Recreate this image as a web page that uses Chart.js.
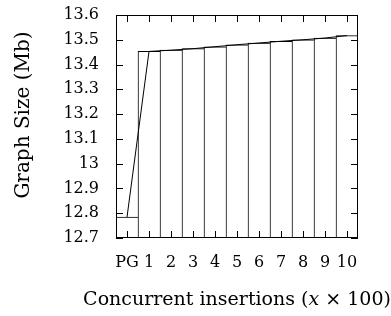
<!DOCTYPE html>
<html>
<head>
<meta charset="utf-8">
<script src="https://cdn.jsdelivr.net/npm/chart.js@4/dist/chart.umd.min.js"></script>
<style>
  body { margin: 0; background: #fff; }
  canvas { display: block; }
</style>
</head>
<body>
<canvas id="graphChart" width="391" height="316"></canvas>
<script>
// data
const categories = ['PG', '1', '2', '3', '4', '5', '6', '7', '8', '9', '10'];
const graphSize = [12.784, 13.453, 13.458, 13.464, 13.472, 13.480, 13.487, 13.494, 13.500, 13.507, 13.517];
const yTicks = [12.7, 12.8, 12.9, 13.0, 13.1, 13.2, 13.3, 13.4, 13.5, 13.6];

const yMin = yTicks[0];
const yMax = yTicks[yTicks.length - 1];
const font = 'DejaVu Serif';

// frame, inward ticks on all four sides, axis titles (gnuplot look)
const frameTicks = {
  id: 'frameTicks',
  afterDraw(chart) {
    const { ctx, chartArea: a, scales } = chart;
    const x = scales.x, y = scales.y;
    const len = 7;
    const L = Math.round(a.left), R = Math.round(a.right);
    const T = Math.round(a.top), B = Math.round(a.bottom);
    ctx.save();
    ctx.fillStyle = '#000';
    ctx.fillRect(L, T, R - L, 1);
    ctx.fillRect(L, B - 1, R - L, 1);
    ctx.fillRect(L, T, 1, B - T);
    ctx.fillRect(R - 1, T, 1, B - T);
    yTicks.forEach(v => {
      const py = Math.round(y.getPixelForValue(v));
      ctx.fillRect(L, py, len, 1);
      ctx.fillRect(R - len, py, len, 1);
    });
    categories.forEach((_, i) => {
      const px = Math.round(x.getPixelForValue(i));
      ctx.fillRect(px, B - len, 1, len);
      ctx.fillRect(px, T, 1, len);
    });

    // y title
    ctx.textBaseline = 'middle';
    ctx.textAlign = 'center';
    ctx.font = '20px "' + font + '"';
    ctx.save();
    ctx.translate(24, 115);
    ctx.rotate(-Math.PI / 2);
    ctx.fillText('Graph Size (Mb)', 0, 0);
    ctx.restore();

    // x title, with an italic x
    const parts = [
      ['Concurrent insertions (', '19px "' + font + '"'],
      ['x', 'italic 19px "' + font + '"'],
      [' × 100)', '19px "' + font + '"']
    ];
    let total = 0;
    parts.forEach(p => { ctx.font = p[1]; total += ctx.measureText(p[0]).width; });
    let cx = (a.left + a.right) / 2 - total / 2;
    ctx.textAlign = 'left';
    parts.forEach(p => {
      ctx.font = p[1];
      ctx.fillText(p[0], cx, 300);
      cx += ctx.measureText(p[0]).width;
    });
    ctx.restore();
  }
};

new Chart(document.getElementById('graphChart').getContext('2d'), {
  data: {
    labels: categories,
    datasets: [
      {
        type: 'line',
        data: graphSize,
        borderColor: '#000',
        borderWidth: 1,
        pointRadius: 0,
        tension: 0,
        order: 0
      },
      {
        type: 'bar',
        data: graphSize,
        base: yMin,
        backgroundColor: '#fff',
        borderColor: '#000',
        borderWidth: { left: 1, top: 1, right: 0, bottom: 0 },
        borderSkipped: false,
        categoryPercentage: 1,
        barPercentage: 1,
        order: 1
      }
    ]
  },
  options: {
    responsive: false,
    animation: false,
    events: [],
    layout: { padding: { top: 15, right: 33, left: 0, bottom: 0 } },
    plugins: { legend: { display: false }, tooltip: { enabled: false } },
    scales: {
      x: {
        grid: { display: false, drawTicks: false },
        border: { display: false },
        ticks: { color: '#000', font: { family: font, size: 16 }, padding: 15, maxRotation: 0, autoSkip: false },
        afterFit: s => { s.height = 78; s.paddingLeft = 0; s.paddingRight = 0; }
      },
      y: {
        min: yMin,
        max: yMax,
        grid: { display: false, drawTicks: false },
        border: { display: false },
        afterBuildTicks: s => { s.ticks = yTicks.map(v => ({ value: v })); },
        ticks: {
          color: '#000',
          font: { family: font, size: 16 },
          padding: 17,
          callback: v => String(Number(v.toFixed(1)))
        },
        afterFit: s => { s.width = 116; s.paddingTop = 0; s.paddingBottom = 0; }
      }
    }
  },
  plugins: [frameTicks]
});
</script>
</body>
</html>
